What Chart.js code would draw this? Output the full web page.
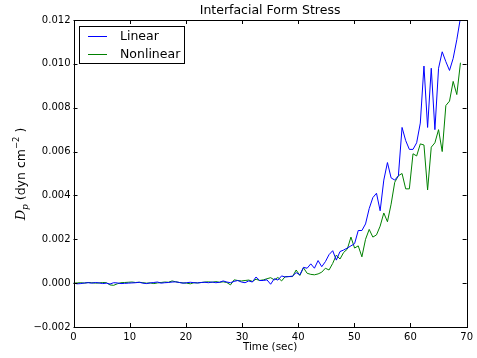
<!DOCTYPE html>
<html>
<head>
<meta charset="utf-8">
<script src="https://cdn.jsdelivr.net/npm/chart.js@4.4.1/dist/chart.umd.min.js"></script>
<style>
  html, body { margin: 0; padding: 0; background: #ffffff; }
  canvas { display: block; }
</style>
</head>
<body>
<canvas id="chart" width="477" height="358"></canvas>
<script>
// Sample times (sec)
const times = [
  0, 0.65, 1.3, 1.95, 2.6, 3.25, 3.9, 4.55, 5.2, 5.85,
  6.5, 7.15, 7.8, 8.45, 9.1, 9.75, 10.4, 11.05, 11.7, 12.35,
  13, 13.65, 14.3, 14.95, 15.6, 16.25, 16.9, 17.55, 18.2, 18.85,
  19.5, 20.15, 20.8, 21.45, 22.1, 22.75, 23.4, 24.05, 24.7, 25.35,
  26, 26.65, 27.3, 27.95, 28.6, 29.25, 29.9, 30.55, 31.2, 31.85,
  32.5, 33.15, 33.8, 34.45, 35.1, 35.75, 36.4, 37.05, 37.7, 38.35,
  39, 39.65, 40.3, 40.95, 41.6, 42.25, 42.9, 43.55, 44.2, 44.85,
  45.5, 46.15, 46.8, 47.45, 48.1, 48.75, 49.4, 50.05, 50.7, 51.35,
  52, 52.65, 53.3, 53.95, 54.6, 55.25, 55.9, 56.55, 57.2, 57.85,
  58.5, 59.15, 59.8, 60.45, 61.1, 61.75, 62.4, 63.05, 63.7, 64.35,
  65, 65.65, 66.3, 66.95, 67.6, 68.25, 68.9
];

// Form stress D_p (dyn cm^-2), linear run
const linearDp = [
  0, -0.00003, -0.00002, 0.00001, 0.00002, 0, 0.00003, 0.00001, -0.00002, 0,
  -0.00004, 0.00002, 0.00001, -0.00002, -0.00001, 0, 0.00001, 0.00002, 0.00004, 0,
  -0.00002, 0.00001, 0.00003, 0.00005, 0, 0.00002, 0.00003, 0.00005, 0.00006, 0.00003,
  0, 0.00002, 0.00004, 0.00002, 0.00001, 0.00003, 0.00004, 0.00002, 0.00005, 0.00002,
  0.00004, 0.0001, 0.00005, 0.00002, 0.00008, 0.00012, 0.00005, 0.00002, 0.0001, 0.00005,
  0.00028, 0.00012, 0.00012, 0.00015, -0.00005, 0.0002, 0.00014, 0.00033, 0.00028, 0.0003,
  0.00032, 0.00048, 0.00038, 0.00072, 0.00068, 0.00088, 0.00068, 0.00103, 0.00075, 0.00098,
  0.0013, 0.00148, 0.00105, 0.00144, 0.00151, 0.0016, 0.0017, 0.0018, 0.0024, 0.0024,
  0.0027, 0.0034, 0.0039, 0.0041, 0.0033, 0.0047, 0.0055, 0.0048, 0.0047, 0.0049,
  0.0071, 0.0065, 0.0061, 0.0061, 0.0064, 0.0073, 0.0099, 0.0071, 0.0098, 0.0070,
  0.0098, 0.01055, 0.0101, 0.0097, 0.01025, 0.0111, 0.0121
];

// Form stress D_p (dyn cm^-2), nonlinear run
const nonlinearDp = [
  0, 0.00001, 0.00002, 0, 0.00003, 0.00002, 0, 0.00001, 0.00003, 0.00002,
  -0.00008, -0.0001, -0.00003, 0.00002, 0.00003, 0.00004, 0.00005, 0.00003, 0.00004, 0.00002,
  0, 0.00001, -0.00002, 0.00001, 0.00003, 0.00005, 0.00004, 0.0001, 0.00006, 0.00003,
  0.00001, 0, -0.00003, 0.00002, 0.00001, 0.00003, 0.00005, 0.00006, 0.00004, 0.00007,
  0.00004, 0.00006, 0.00003, -0.00008, 0.00015, 0.00012, 0.0001, 0.00012, 0.00014, 0.00008,
  0.00018, 0.00012, 0.00015, 0.0002, 0.00025, 0.00015, 0.00026, 0.0001, 0.0003, 0.0003,
  0.0003, 0.0006, 0.00035, 0.0007, 0.00045, 0.0004, 0.00038, 0.00042, 0.0005, 0.00068,
  0.0006, 0.0009, 0.00128, 0.0011, 0.0014, 0.00155, 0.0021, 0.0016, 0.0017, 0.0012,
  0.002, 0.00245, 0.0021, 0.0022, 0.0026, 0.0032, 0.0028, 0.0036, 0.0046, 0.0049,
  0.005, 0.0043, 0.0043, 0.0059, 0.0058, 0.00635, 0.0063, 0.00425, 0.0062, 0.0064,
  0.007, 0.006, 0.0081, 0.0083, 0.0092, 0.0086, 0.01005
];

const seriesNames = ['Linear', 'Nonlinear'];
const xTicks = [0, 10, 20, 30, 40, 50, 60, 70];
const yTicks = [-0.002, 0, 0.002, 0.004, 0.006, 0.008, 0.010, 0.012];

const FONT = "'DejaVu Sans', 'Liberation Sans', sans-serif";
const SERIF = "'DejaVu Serif', 'Liberation Serif', serif";

function pairs(values) {
  return values.map((v, i) => ({ x: times[i], y: v }));
}

function fmtY(v) {
  const s = Math.abs(v).toFixed(3);
  return (v < -1e-12 ? '\u2212' : '') + s;
}

// Frame, inward tick marks, title, axis labels and legend
const decorations = {
  id: 'decorations',
  afterDatasetsDraw(chart) {
    const { ctx, chartArea: a, scales } = chart;
    const xs = scales.x, ys = scales.y;
    ctx.save();
    ctx.strokeStyle = '#000000';
    ctx.lineWidth = 1;
    // inward ticks on all four sides
    const tl = 4;
    ctx.beginPath();
    xTicks.forEach(t => {
      const px = Math.round(xs.getPixelForValue(t)) + 0.5;
      ctx.moveTo(px, a.bottom); ctx.lineTo(px, a.bottom - tl);
      ctx.moveTo(px, a.top); ctx.lineTo(px, a.top + tl);
    });
    yTicks.forEach(t => {
      const py = Math.round(ys.getPixelForValue(t)) + 0.5;
      ctx.moveTo(a.left, py); ctx.lineTo(a.left + tl, py);
      ctx.moveTo(a.right, py); ctx.lineTo(a.right - tl, py);
    });
    ctx.stroke();
    // frame
    ctx.strokeRect(Math.round(a.left) + 0.5, Math.round(a.top) + 0.5,
      Math.round(a.right - a.left), Math.round(a.bottom - a.top));

    // title
    ctx.fillStyle = '#000000';
    ctx.textAlign = 'center';
    ctx.textBaseline = 'middle';
    ctx.font = '12.5px ' + FONT;
    ctx.fillText('Interfacial Form Stress', (a.left + a.right) / 2, 11);

    // x axis label
    ctx.font = '10.4px ' + FONT;
    ctx.fillText('Time (sec)', (a.left + a.right) / 2, 347);

    // y axis label: D_p (dyn cm^-2)
    ctx.save();
    ctx.translate(20, 174);
    ctx.rotate(-Math.PI / 2);
    ctx.textAlign = 'left';
    ctx.textBaseline = 'alphabetic';
    const parts = [
      { t: 'D', f: 'italic 13px ' + SERIF, dy: 0 },
      { t: 'p', f: 'italic 9px ' + SERIF, dy: 3 },
      { t: ' (dyn cm', f: '12.5px ' + FONT, dy: 0 },
      { t: '\u22122', f: '8.5px ' + FONT, dy: -6 },
      { t: ' )', f: '12.5px ' + FONT, dy: 0 }
    ];
    let total = 0;
    parts.forEach(p => { ctx.font = p.f; p.w = ctx.measureText(p.t).width; total += p.w; });
    let cx = -total / 2;
    parts.forEach(p => {
      ctx.font = p.f;
      ctx.fillText(p.t, cx, 4.5 + p.dy);
      cx += p.w;
    });
    ctx.restore();

    // legend
    const lx = 79.5, ly = 26.5, lw = 105, lh = 37;
    ctx.fillStyle = '#ffffff';
    ctx.fillRect(lx, ly, lw, lh);
    ctx.strokeStyle = '#000000';
    ctx.strokeRect(lx, ly, lw, lh);
    ctx.font = '12.5px ' + FONT;
    ctx.textAlign = 'left';
    ctx.textBaseline = 'middle';
    chart.data.datasets.forEach((ds, i) => {
      const y = 36 + i * 18;
      ctx.strokeStyle = ds.borderColor;
      ctx.lineWidth = 1;
      ctx.beginPath();
      ctx.moveTo(88, y + 0.5); ctx.lineTo(107, y + 0.5);
      ctx.stroke();
      ctx.fillStyle = '#000000';
      ctx.fillText(ds.label, 120, y + 0.5);
    });
    ctx.restore();
  }
};

new Chart(document.getElementById('chart'), {
  type: 'line',
  data: {
    datasets: [
      { label: seriesNames[0], data: pairs(linearDp), borderColor: '#0000ff', borderWidth: 1,
        pointRadius: 0, tension: 0, fill: false, clip: 0 },
      { label: seriesNames[1], data: pairs(nonlinearDp), borderColor: '#008000', borderWidth: 1,
        pointRadius: 0, tension: 0, fill: false, clip: 0 }
    ]
  },
  options: {
    responsive: false,
    animation: false,
    devicePixelRatio: 1,
    layout: { padding: { left: 0, right: 8, top: 20, bottom: 0 } },
    plugins: { legend: { display: false }, title: { display: false }, tooltip: { enabled: false } },
    scales: {
      x: {
        type: 'linear', min: 0, max: 70,
        afterFit(scale) { scale.height = 31; },
        afterBuildTicks(scale) { scale.ticks = xTicks.map(v => ({ value: v })); },
        grid: { display: false, drawTicks: false },
        border: { display: false },
        ticks: { color: '#000000', padding: 4, maxRotation: 0, font: { family: FONT, size: 10 },
          callback: v => String(v) }
      },
      y: {
        type: 'linear', min: -0.002, max: 0.012,
        afterFit(scale) { scale.width = 73.5; },
        afterBuildTicks(scale) { scale.ticks = yTicks.map(v => ({ value: v })); },
        grid: { display: false, drawTicks: false },
        border: { display: false },
        ticks: { color: '#000000', padding: 3, font: { family: FONT, size: 10 },
          callback: v => fmtY(v) }
      }
    }
  },
  plugins: [decorations]
});
</script>
</body>
</html>
